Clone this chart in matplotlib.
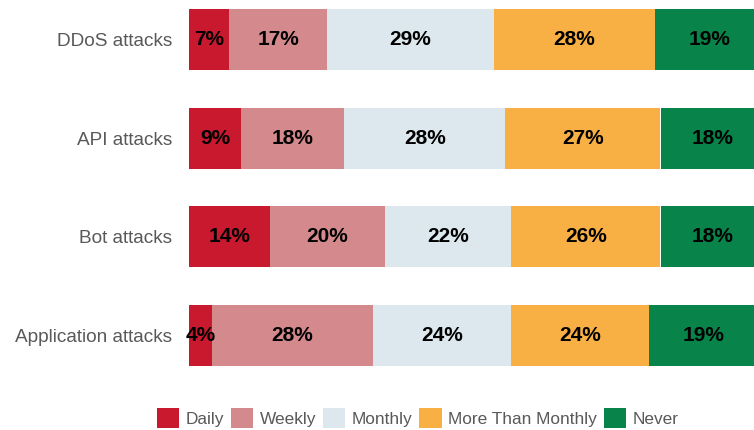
import matplotlib
matplotlib.use("Agg")
from matplotlib import pyplot as plt
from matplotlib.patches import Patch
import numpy as np

plt.rcParams['font.family'] = ['Liberation Sans', 'DejaVu Sans']

categories = ['DDoS attacks', 'API attacks', 'Bot attacks', 'Application attacks']
series = ['Daily', 'Weekly', 'Monthly', 'More Than Monthly', 'Never']
daily = [7, 9, 14, 4]
weekly = [17, 18, 20, 28]
monthly = [29, 28, 22, 24]
more_than_monthly = [28, 27, 26, 24]
never = [19, 18, 18, 19]
colors = ['#C8192E', '#D48A8C', '#DDE7EE', '#F8AF43', '#08844A']

values = [daily, weekly, monthly, more_than_monthly, never]

W, H = 754, 430
fig = plt.figure(figsize=(W / 100, H / 100), dpi=100)

# axes run past the right edge of the figure, like the cropped original
left_px, right_px = 189, 764
top_px, bot_px = 39.5 - 49.35, 335.5 + 49.35
ax = fig.add_axes([left_px / W, 1 - bot_px / H,
                   (right_px - left_px) / W, (bot_px - top_px) / H])

y = np.arange(len(categories))
left = np.zeros(len(categories))
for name, vals, col in zip(series, values, colors):
    vals = np.array(vals, dtype=float)
    ax.barh(y, vals, left=left, height=0.62, color=col, label=name)
    for yi, l, v in zip(y, left, vals):
        ax.text(l + v / 2, yi, f'{int(v)}%', ha='center', va='center',
                fontsize=15, fontweight='bold', color='black')
    left += vals

ax.set_xlim(0, 100)
ax.set_ylim(len(categories) - 0.5, -0.5)
ax.set_yticks(y)
ax.set_yticklabels(categories, fontsize=13.7, color='#595959')
ax.tick_params(axis='y', length=0, pad=12)
ax.set_xticks([])
for s in ax.spines.values():
    s.set_visible(False)

handles = [Patch(facecolor=c, label=n) for n, c in zip(series, colors)]
leg = fig.legend(handles=handles, loc='center left',
                 bbox_to_anchor=(157 / W, 1 - 418 / H), ncol=5, frameon=False,
                 fontsize=12.4, handlelength=1.3, handleheight=1.4,
                 handletextpad=0.35, columnspacing=0.42, borderpad=0,
                 borderaxespad=0)
for t in leg.get_texts():
    t.set_color('#595959')

fig.savefig('out.png', dpi=100)
